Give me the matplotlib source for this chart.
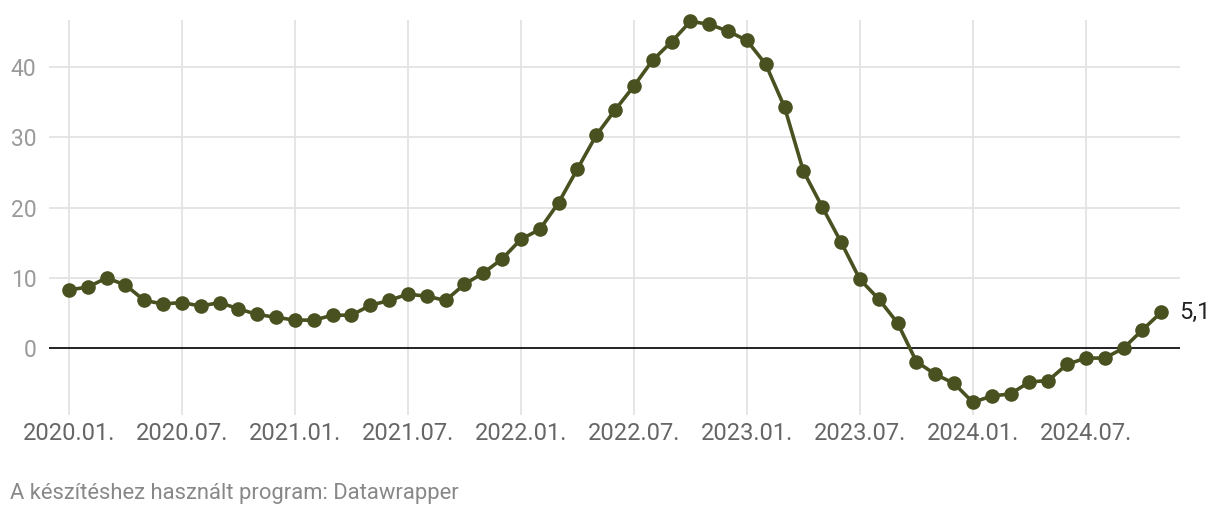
import numpy as np
import matplotlib.pyplot as plt

# monthly values, 2020.01 .. 2024.11
months = [f"{y}.{m:02d}." for y in range(2020, 2025) for m in range(1, 13)][:59]
values = [
    8.3, 8.7, 10.0, 9.0, 6.8, 6.3, 6.5, 6.0, 6.5, 5.6, 4.8, 4.4,
    4.0, 4.0, 4.7, 4.7, 6.1, 6.8, 7.7, 7.4, 6.8, 9.1, 10.7, 12.7,
    15.5, 16.9, 20.7, 25.5, 30.3, 33.9, 37.3, 41.0, 43.6, 46.5, 46.1, 45.1,
    43.8, 40.4, 34.3, 25.2, 20.1, 15.1, 9.8, 7.0, 3.6, -1.9, -3.7, -5.0,
    -7.7, -6.8, -6.5, -4.8, -4.6, -2.3, -1.4, -1.4, 0.0, 2.6, 5.1,
]
y_ticks = [0, 10, 20, 30, 40]
x_tick_idx = list(range(0, 59, 6))

plt.rcParams["font.family"] = ["Roboto", "DejaVu Sans"]

fig = plt.figure(figsize=(12.2, 5.18), dpi=100)
ax = fig.add_axes([49 / 1220, 1 - 415 / 518, (1180 - 49) / 1220, (415 - 20) / 518])

x = np.arange(len(values))
line_color = "#48511f"
ax.plot(x, values, color=line_color, lw=2.6, marker="o", ms=10.5,
        markeredgewidth=0, zorder=3, clip_on=False)

ax.set_xlim(-1.06, 59.0)
ax.set_ylim(-9.5, 46.7)

ax.set_yticks(y_ticks)
ax.set_yticklabels([str(v) for v in y_ticks])
ax.set_xticks(x_tick_idx)
ax.set_xticklabels([months[i] for i in x_tick_idx])

for v in y_ticks[1:]:
    ax.axhline(v, color="#e3e3e3", lw=1.3, zorder=1)
for i in x_tick_idx:
    ax.axvline(i, color="#e3e3e3", lw=1.3, zorder=1)
ax.axhline(0, color="#111111", lw=1.3, zorder=2)

ax.tick_params(axis="y", length=0, pad=9, labelsize=16.5, labelcolor="#9a9a9a")
ax.tick_params(axis="x", length=0, pad=5, labelsize=17, labelcolor="#666666")
for s in ax.spines.values():
    s.set_visible(False)

ax.annotate("5,1", (x[-1], values[-1]), xytext=(13, 0), textcoords="offset points",
            va="center", ha="left", fontsize=17, color="#222222")

fig.text(10 / 1220, 1 - 494 / 518, "A készítéshez használt program: Datawrapper",
         fontsize=15.8, color="#888888", va="center", ha="left")

fig.savefig("out.png", dpi=100)
